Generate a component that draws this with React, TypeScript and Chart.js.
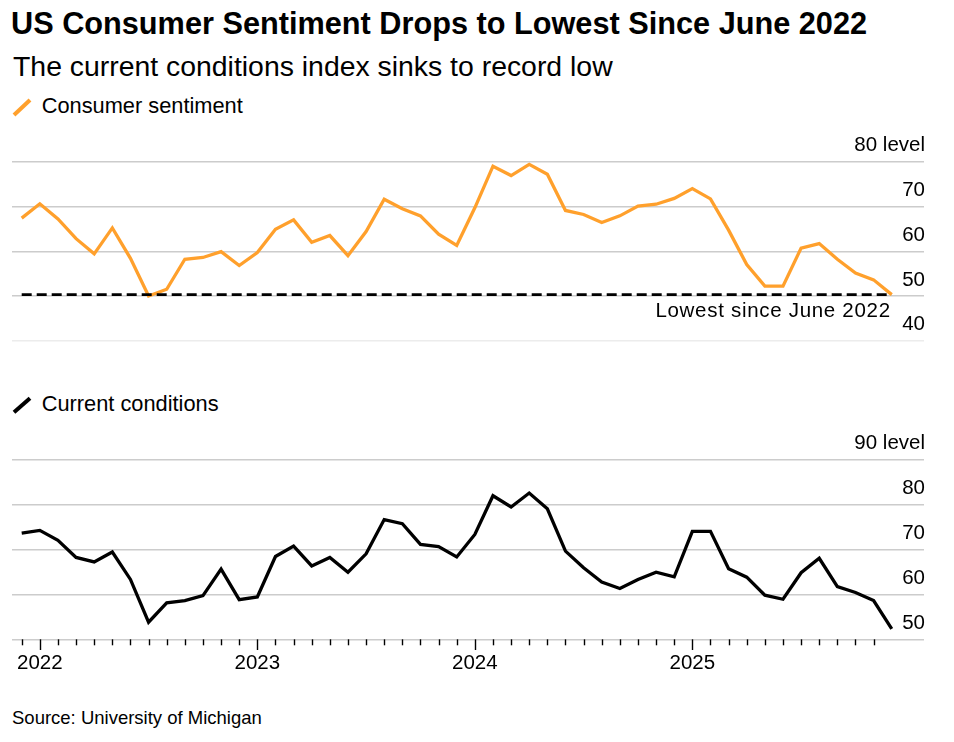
import React, { useEffect, useRef } from "react";
import { Chart, registerables } from "chart.js";

Chart.register(...registerables);

// ---- data ----
const months = [
  "2021-11", "2021-12",
  "2022-01", "2022-02", "2022-03", "2022-04", "2022-05", "2022-06",
  "2022-07", "2022-08", "2022-09", "2022-10", "2022-11", "2022-12",
  "2023-01", "2023-02", "2023-03", "2023-04", "2023-05", "2023-06",
  "2023-07", "2023-08", "2023-09", "2023-10", "2023-11", "2023-12",
  "2024-01", "2024-02", "2024-03", "2024-04", "2024-05", "2024-06",
  "2024-07", "2024-08", "2024-09", "2024-10", "2024-11", "2024-12",
  "2025-01", "2025-02", "2025-03", "2025-04", "2025-05", "2025-06",
  "2025-07", "2025-08", "2025-09", "2025-10", "2025-11",
];

const sentiment = [
  67.4, 70.6,
  67.2, 62.8, 59.4, 65.2, 58.4, 50.0, 51.5, 58.2, 58.6, 59.9, 56.8, 59.7,
  64.9, 67.0, 62.0, 63.5, 59.0, 64.4, 71.6, 69.5, 67.9, 63.8, 61.3, 69.7,
  79.0, 76.9, 79.4, 77.2, 69.1, 68.2, 66.4, 67.9, 70.1, 70.5, 71.8, 74.0,
  71.7, 64.7, 57.0, 52.2, 52.2, 60.7, 61.7, 58.2, 55.1, 53.6, 50.3,
];

const currentConditions = [
  73.6, 74.2,
  72.0, 68.2, 67.2, 69.4, 63.3, 53.8, 58.1, 58.6, 59.7, 65.6, 58.8, 59.4,
  68.4, 70.7, 66.3, 68.2, 64.9, 69.0, 76.6, 75.7, 71.1, 70.6, 68.3, 73.3,
  81.9, 79.4, 82.5, 79.0, 69.6, 65.9, 62.7, 61.3, 63.3, 64.9, 63.9, 74.0,
  74.0, 65.7, 63.8, 59.8, 58.9, 64.8, 68.0, 61.7, 60.4, 58.6, 52.3,
];

const sentimentTicks = [40, 50, 60, 70, 80];
const conditionsTicks = [50, 60, 70, 80, 90];
const lowestLabel = "Lowest since June 2022";

const TITLE = "US Consumer Sentiment Drops to Lowest Since June 2022";
const SUBTITLE = "The current conditions index sinks to record low";
const SERIES1 = "Consumer sentiment";
const SERIES2 = "Current conditions";
const SOURCE = "Source: University of Michigan";

// ---- styles ----
const ORANGE = "#ffa02c";
const FONT = "'Liberation Sans', Arial, Helvetica, sans-serif";
const AXIS_FONT_SIZE = 20.5;
const X_MIN = -0.535;
const X_MAX = 49.78;

type Opts = {
  values: number[];
  color: string;
  ticks: number[];
  showX: boolean;
  dashed: boolean;
  padding: { left: number; right: number; top: number; bottom: number };
};

function buildConfig(o: Opts): any {
  const pts = o.values.map((v, i) => ({ x: i, y: v }));
  const last = o.values[o.values.length - 1];
  const yMin = o.ticks[0];
  const yMax = o.ticks[o.ticks.length - 1];
  const datasets: any[] = [];
  if (o.dashed) {
    datasets.push({
      data: [
        { x: 0, y: last },
        { x: o.values.length - 1, y: last },
      ],
      borderColor: "#000",
      borderWidth: 2.6,
      borderDash: [10, 5],
      pointRadius: 0,
      order: 0,
    });
  }
  datasets.push({
    data: pts,
    borderColor: o.color,
    borderWidth: 3.3,
    pointRadius: 0,
    tension: 0,
    order: 1,
  });

  const plugins: any[] = [];
  if (o.dashed) {
    plugins.push({
      id: "lowestLabel",
      afterDatasetsDraw(chart: any) {
        const { ctx, scales } = chart;
        const x = scales.x.getPixelForValue(o.values.length - 1) - 1;
        const y = scales.y.getPixelForValue(last) + 22.3;
        ctx.save();
        ctx.font = `${AXIS_FONT_SIZE}px ${FONT}`;
        (ctx as any).letterSpacing = "0.7px";
        ctx.fillStyle = "#000";
        ctx.textAlign = "right";
        ctx.textBaseline = "alphabetic";
        ctx.fillText(lowestLabel, x, y);
        ctx.restore();
      },
    });
  }
  if (o.showX) {
    plugins.push({
      id: "monthTicks",
      afterDraw(chart: any) {
        const { ctx, scales, chartArea } = chart;
        ctx.save();
        ctx.strokeStyle = "#000";
        ctx.lineWidth = 1.4;
        for (let v = 0; v < months.length - 1; v++) {
          const x = Math.round(scales.x.getPixelForValue(v)) + 0.5;
          const major = months[v + 1].endsWith("-01");
          ctx.beginPath();
          ctx.moveTo(x, chartArea.bottom);
          ctx.lineTo(x, chartArea.bottom + (major ? 10.7 : 6));
          ctx.stroke();
        }
        ctx.restore();
      },
    });
  }

  return {
    type: "line",
    data: { datasets },
    plugins,
    options: {
      animation: false,
      responsive: false,
      maintainAspectRatio: false,
      layout: { padding: o.padding },
      plugins: { legend: { display: false }, tooltip: { enabled: false } },
      scales: {
        x: {
          type: "linear",
          min: X_MIN,
          max: X_MAX,
          display: o.showX,
          grid: { display: false, drawTicks: false },
          border: { display: false },
          afterBuildTicks(scale: any) {
            const t: any[] = [];
            for (let v = 0; v < months.length - 1; v++) {
              if (months[v + 1].endsWith("-01")) t.push({ value: v });
            }
            scale.ticks = t;
          },
          afterFit(scale: any) {
            scale.height = o.showX ? 40 : 0;
            scale.paddingLeft = 0;
            scale.paddingRight = 0;
          },
          ticks: {
            autoSkip: false,
            maxRotation: 0,
            minRotation: 0,
            padding: 11.7,
            color: "#000",
            font: { family: FONT, size: AXIS_FONT_SIZE },
            callback: (v: number) => {
              const m = months[v + 1];
              return m ? m.slice(0, 4) : "";
            },
          },
        },
        y: {
          type: "linear",
          position: "right",
          min: yMin,
          max: yMax,
          afterBuildTicks(scale: any) {
            scale.ticks = o.ticks.map((v) => ({ value: v }));
          },
          afterFit(scale: any) {
            scale.width = 0;
            scale.paddingTop = 0;
            scale.paddingBottom = 0;
          },
          border: { display: false },
          grid: {
            drawTicks: false,
            lineWidth: 1.4,
            color: (c: any) =>
              !o.showX && c.tick && c.tick.value === yMin ? "#ececec" : "#cccccc",
          },
          ticks: {
            mirror: true,
            padding: 1,
            labelOffset: -16,
            color: "#000",
            font: { family: FONT, size: AXIS_FONT_SIZE },
            callback: (v: number) => (v === yMax ? `${v} level` : String(v)),
          },
        },
      },
    },
  };
}

const textBase: React.CSSProperties = {
  position: "absolute",
  margin: 0,
  fontFamily: FONT,
  color: "#000",
  whiteSpace: "nowrap",
  lineHeight: 1,
};

export default function App() {
  const topRef = useRef<HTMLCanvasElement>(null);
  const botRef = useRef<HTMLCanvasElement>(null);

  useEffect(() => {
    const c1 = new Chart(
      topRef.current!,
      buildConfig({
        values: sentiment,
        color: ORANGE,
        ticks: sentimentTicks,
        showX: false,
        dashed: true,
        padding: { left: 12, right: 30, top: 31.7, bottom: 19.3 },
      })
    );
    const c2 = new Chart(
      botRef.current!,
      buildConfig({
        values: currentConditions,
        color: "#000",
        ticks: conditionsTicks,
        showX: true,
        dashed: false,
        padding: { left: 12, right: 30, top: 29.3, bottom: 20.7 },
      })
    );
    return () => {
      c1.destroy();
      c2.destroy();
    };
  }, []);

  return (
    <div
      style={{
        position: "absolute",
        left: 0,
        top: 0,
        width: 954,
        height: 742,
        background: "#fff",
        overflow: "hidden",
      }}
    >
      <div style={{ ...textBase, left: 11, top: 9, fontSize: 30.7, fontWeight: 700 }}>
        {TITLE}
      </div>
      <div style={{ ...textBase, left: 13, top: 52, fontSize: 28.4 }}>{SUBTITLE}</div>

      <svg
        width={22}
        height={22}
        style={{ position: "absolute", left: 12, top: 98 }}
      >
        <line x1={2} y1={17} x2={18} y2={2} stroke={ORANGE} strokeWidth={4} />
      </svg>
      <div style={{ ...textBase, left: 41.7, top: 94.8, fontSize: 21.8 }}>{SERIES1}</div>

      <canvas
        ref={topRef}
        width={954}
        height={230}
        style={{ position: "absolute", left: 0, top: 130, width: 954, height: 230 }}
      />

      <svg
        width={22}
        height={22}
        style={{ position: "absolute", left: 12, top: 396 }}
      >
        <line x1={2} y1={16.3} x2={18} y2={2.3} stroke="#000" strokeWidth={4} />
      </svg>
      <div style={{ ...textBase, left: 41.7, top: 392.8, fontSize: 21.8 }}>{SERIES2}</div>

      <canvas
        ref={botRef}
        width={954}
        height={270}
        style={{ position: "absolute", left: 0, top: 430, width: 954, height: 270 }}
      />

      <div style={{ ...textBase, left: 12, top: 709.3, fontSize: 18.5 }}>{SOURCE}</div>
    </div>
  );
}
